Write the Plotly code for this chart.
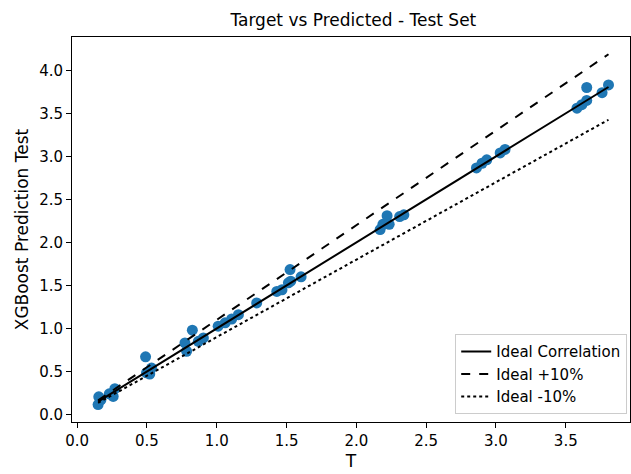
import numpy as np
import plotly.graph_objects as go

target = [0.15, 0.155, 0.17, 0.23, 0.258, 0.27,
          0.49, 0.497, 0.52, 0.533,
          0.772, 0.784, 0.825, 0.868, 0.904,
          1.01, 1.06, 1.107, 1.155, 1.286,
          1.43, 1.467, 1.513, 1.525, 1.53, 1.604,
          2.17, 2.19, 2.22, 2.235, 2.31, 2.34,
          2.86, 2.90, 2.934, 3.03, 3.065,
          3.58, 3.615, 3.65, 3.65, 3.76, 3.806]
predicted = [0.116, 0.205, 0.17, 0.24, 0.21, 0.30,
             0.67, 0.484, 0.47, 0.54,
             0.832, 0.735, 0.98, 0.85, 0.89,
             1.026, 1.065, 1.11, 1.16, 1.297,
             1.43, 1.45, 1.53, 1.684, 1.55, 1.60,
             2.149, 2.21, 2.31, 2.21, 2.30, 2.32,
             2.865, 2.92, 2.96, 3.04, 3.08,
             3.56, 3.60, 3.65, 3.80, 3.74, 3.83]

title = "Target vs Predicted - Test Set"
x_label = "T"
y_label = "XGBoost Prediction Test"
x_ticks = [0.0, 0.5, 1.0, 1.5, 2.0, 2.5, 3.0, 3.5]
y_ticks = [0.0, 0.5, 1.0, 1.5, 2.0, 2.5, 3.0, 3.5, 4.0]

xmin, xmax = min(target), max(target)
line_x = [xmin, xmax]

fig = go.Figure()
fig.add_trace(go.Scatter(x=target, y=predicted, mode="markers",
                         marker=dict(color="#1f77b4", size=11),
                         showlegend=False))
fig.add_trace(go.Scatter(x=line_x, y=line_x, mode="lines", name="Ideal Correlation",
                         line=dict(color="black", width=2)))
fig.add_trace(go.Scatter(x=line_x, y=[v * 1.1 for v in line_x], mode="lines", name="Ideal +10%",
                         line=dict(color="black", width=2, dash="dash")))
fig.add_trace(go.Scatter(x=line_x, y=[v * 0.9 for v in line_x], mode="lines", name="Ideal -10%",
                         line=dict(color="black", width=2, dash="dot")))

axis_common = dict(showline=True, linecolor="black", linewidth=1, mirror=True,
                   ticks="outside", ticklen=5, tickcolor="black", showgrid=False,
                   zeroline=False, tickfont=dict(size=15, color="black"))

fig.update_layout(
    width=631, height=474,
    margin=dict(l=72, r=1, t=37, b=52),
    paper_bgcolor="white", plot_bgcolor="white",
    font=dict(family="DejaVu Sans", color="black"),
    title=dict(text=title, x=0.56, xanchor="center", y=0.957, yanchor="middle",
               font=dict(size=17)),
    xaxis=dict(title=dict(text=x_label, font=dict(size=17), standoff=6),
               range=[-0.037, 3.96], tickvals=x_ticks,
               ticktext=[f"{v:.1f}" for v in x_ticks], **axis_common),
    yaxis=dict(title=dict(text=y_label, font=dict(size=17), standoff=6),
               range=[-0.087, 4.387], tickvals=y_ticks,
               ticktext=[f"{v:.1f}" for v in y_ticks], **axis_common),
    legend=dict(x=0.995, xanchor="right", y=0.02, yanchor="bottom",
                bgcolor="white", bordercolor="#cccccc", borderwidth=1,
                font=dict(size=15), tracegroupgap=0),
)

fig.write_html("out.html")
